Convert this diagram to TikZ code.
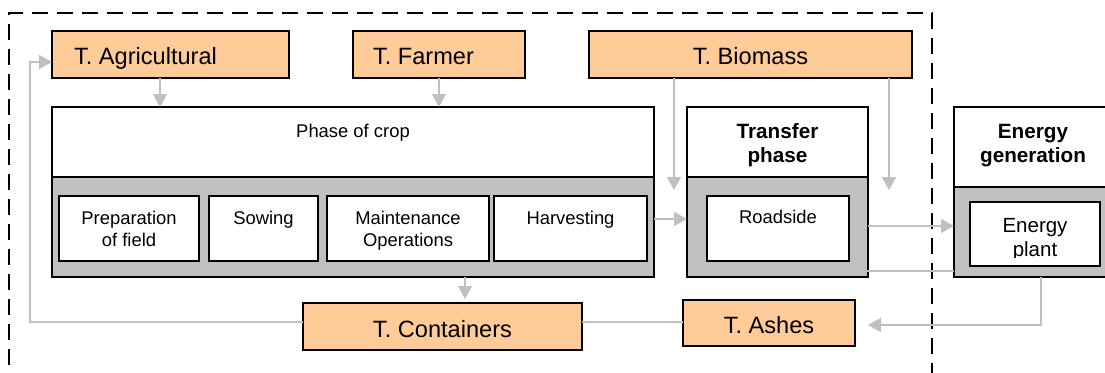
\documentclass[tikz,border=0pt]{standalone}
\usepackage{fontspec}
\setmainfont{Liberation Sans}
\usetikzlibrary{arrows.meta}
\definecolor{orangefill}{RGB}{255,204,153}
\definecolor{grayfill}{RGB}{192,192,192}
\definecolor{conncol}{RGB}{192,192,192}
\newcommand\fbig{\fontsize{23.6pt}{28pt}\selectfont}
\newcommand\fmid{\fontsize{18.4pt}{22pt}\selectfont}
\newcommand\fbold{\fontsize{20.7pt}{24pt}\selectfont\bfseries}
\newcommand\fplant{\fontsize{20.5pt}{24pt}\selectfont}
\begin{document}
\begin{tikzpicture}[x=1pt,y=-1pt,
  box/.style={draw=black, line width=1.4pt, inner sep=0pt, outer sep=0pt, anchor=north west},
  orangebox/.style={box, fill=orangefill},
  whitebox/.style={box, fill=white},
  graybox/.style={box, fill=grayfill},
  txt/.style={inner sep=0pt, outer sep=0pt, anchor=base},
  conn/.style={draw=conncol, line width=1.6pt, -{Triangle[width=14pt,length=13pt]}},
  plainconn/.style={draw=conncol, line width=1.6pt},
  dashbox/.style={draw=black, line width=1.4pt, dash pattern=on 16pt off 9pt}]
\useasboundingbox (0,0) rectangle (1105,372);
\fill[white] (0,0) rectangle (1105,372);
% dashed frame
\draw[dashbox] (9,390) -- (9,13) -- (932,13) -- (932,390);
% top orange boxes
\node[orangebox, minimum width=237pt, minimum height=47pt] (tagr) at (52,31) {};
\node[orangebox, minimum width=172pt, minimum height=47pt] (tfarm) at (353,31) {};
\node[orangebox, minimum width=323pt, minimum height=47pt] (tbio) at (589,31) {};
\node[txt, anchor=base west] (tagrt) at (74,64) {\fbig T. Agricultural};
\node[txt, anchor=base west] (tfarmt) at (373,64) {\fbig T. Farmer};
\node[txt] (tbiot) at (750.5,64) {\fbig T. Biomass};
% phase of crop
\node[whitebox, minimum width=602pt, minimum height=70pt] (croptop) at (52,107) {};
\node[graybox, minimum width=602pt, minimum height=100pt] (cropbot) at (52,177) {};
\node[txt] (cropt) at (353,137) {\fmid Phase of crop};
\node[whitebox, minimum width=140pt, minimum height=65pt] (prep) at (59,196) {};
\node[whitebox, minimum width=109pt, minimum height=65pt] (sow) at (209,196) {};
\node[whitebox, minimum width=162pt, minimum height=65pt] (maint) at (327,196) {};
\node[whitebox, minimum width=153pt, minimum height=65pt] (harv) at (494,196) {};
\node[txt] (prept1) at (129,224) {\fmid Preparation};
\node[txt] (prept2) at (129,246) {\fmid of field};
\node[txt] (sowt) at (263.5,224) {\fmid Sowing};
\node[txt] (maintt1) at (408,224) {\fmid Maintenance};
\node[txt] (maintt2) at (408,246) {\fmid Operations};
\node[txt] (harvt) at (570.5,224) {\fmid Harvesting};
% transfer phase
\node[whitebox, minimum width=181pt, minimum height=70pt] (trtop) at (687,107) {};
\node[graybox, minimum width=181pt, minimum height=100pt] (trbot) at (687,177) {};
\node[whitebox, minimum width=142pt, minimum height=65pt] (road) at (707,196) {};
\node[txt] (trt1) at (777.5,138) {\fbold Transfer};
\node[txt] (trt2) at (777.5,162) {\fbold phase};
\node[txt] (roadt) at (778,223) {\fmid Roadside};
% energy generation
\node[whitebox, minimum width=160pt, minimum height=80pt] (egtop) at (954,107) {};
\node[graybox, minimum width=160pt, minimum height=90pt] (egbot) at (954,187) {};
\node[whitebox, minimum width=130pt, minimum height=64pt] (plant) at (970,202) {};
\node[txt] (egt1) at (1033,138) {\fbold Energy};
\node[txt] (egt2) at (1033,162) {\fbold generation};
\node[txt] (plantt1) at (1035,232) {\fplant Energy};
\begin{scope}
\clip (972,238) rectangle (1098,257);
\node[txt] (plantt2) at (1035,256) {\fplant plant};
\end{scope}
% bottom orange boxes
\node[orangebox, minimum width=279pt, minimum height=47pt] (tcont) at (303,303) {};
\node[orangebox, minimum width=172pt, minimum height=46pt] (tash) at (683,300) {};
\node[txt] (tcontt) at (442.5,337) {\fbig T. Containers};
\node[txt] (tasht) at (769,333) {\fbig T. Ashes};
% helper coordinates
\coordinate (xagr) at (160,0);
\coordinate (xb1) at (674,0);
\coordinate (xb2) at (889,0);
\coordinate (ytip) at (0,190);
\coordinate (yr) at (0,219);
\coordinate (ye) at (0,226);
\coordinate (yf) at (0,271);
\coordinate (xh) at (853,0);
\coordinate (xr) at (1041,0);
\coordinate (yg) at (0,325);
\coordinate (xt) at (868,0);
\coordinate (xc) at (465,0);
\coordinate (ycont) at (0,299);
\coordinate (yb) at (0,322);
\coordinate (xl) at (30,0);
\coordinate (ya) at (0,62);
% connectors
\draw[conn] (xagr |- tagr.south) -- (xagr |- croptop.north);
\draw[conn] (tfarm.south) -- (tfarm.south |- croptop.north);
\draw[conn] (xb1 |- tbio.south) -- (xb1 |- ytip);
\draw[conn] (xb2 |- tbio.south) -- (xb2 |- ytip);
\draw[conn] (cropbot.east |- yr) -- (trbot.west |- yr);
\draw[conn] (trbot.east |- ye) -- (egbot.west |- ye);
\draw[plainconn] (egbot.west |- yf) -- (xh |- yf);
\draw[conn] (xr |- egbot.south) -- (xr |- yg) -- (xt |- yg);
\draw[conn] (xc |- cropbot.south) -- (xc |- ycont);
\draw[plainconn] (tash.west |- yb) -- (tcont.east |- yb);
\draw[conn] (tcont.west |- yb) -- (xl |- yb) -- (xl |- ya) -- (tagr.west |- ya);
\end{tikzpicture}
\end{document}
